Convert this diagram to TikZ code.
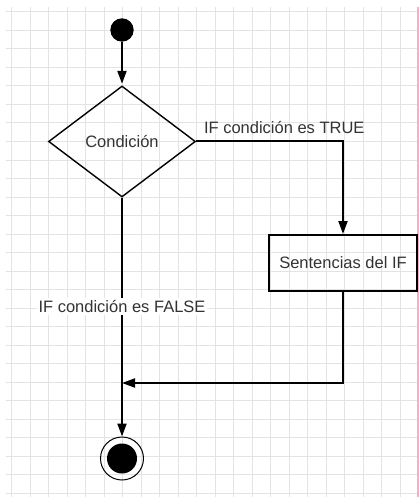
\documentclass[tikz,border=0pt]{standalone}
\usepackage{fontspec}
\setmainfont{Liberation Sans}
\usepackage{xcolor}
\usetikzlibrary{shapes.geometric,arrows.meta}

\definecolor{gridgray}{HTML}{E3E3E3}
\definecolor{textgray}{HTML}{333333}
\definecolor{edgepink}{HTML}{F2AFC6}

\tikzset{
	every node/.style={font=\fontsize{16.5}{19}\selectfont,text=textgray},
	gridline/.style={gridgray,line width=1pt},
	flow/.style={line width=2pt,-{Triangle[length=13pt,width=9pt]}},
	startdot/.style={circle,fill=black,minimum size=23.4pt,inner sep=0pt},
	decision/.style={diamond,draw,line width=1.4pt,minimum width=147pt,minimum height=111pt,inner sep=0pt},
	stmtbox/.style={rectangle,draw,line width=2pt,minimum width=148pt,minimum height=56pt,inner sep=0pt},
	endring/.style={circle,draw,line width=1pt,minimum size=43pt,inner sep=0pt},
	enddot/.style={circle,fill=black,minimum size=30pt,inner sep=0pt}
}

\begin{document}
\begin{tikzpicture}[x=1pt,y=-1pt]
						\useasboundingbox[fill=white] (0,0) rectangle (419,497);
						
						% grid
						\foreach \i in {0,...,21}
							\draw[gridline] ({11.7+18.5*\i},7) -- ({11.7+18.5*\i},497);
						\foreach \j in {0,...,26}
							\draw[gridline] (6,{12+18.5*\j}) -- (417,{12+18.5*\j});
						\draw[edgepink,line width=2pt] (417.5,7) -- (417.5,497);
						
						\node[startdot] (start) at (122,30) {};
						\node[decision] (cond) at (122,141.5) {Condición};
						\node[stmtbox] (stmt) at (343,263) {Sentencias del IF};
						\node[endring] (end) at (122,458.5) {};
						\node[enddot] (enddot) at (end) {};
						\coordinate (join) at (122,383);
						
						\draw[flow,shorten >=1.5pt] (start) -- (cond);
						\draw[flow] (cond.east) -| (stmt.north)
							node[pos=0.3,above=4pt] (truelbl) {IF condición es TRUE};
						\draw[flow] (cond.south) -- (end.north)
							node[pos=0.455,fill=white,inner sep=2pt] (falselbl) {IF condición es FALSE};
						\draw[flow] (stmt.south) |- (join);
					\end{tikzpicture}
\end{document}
